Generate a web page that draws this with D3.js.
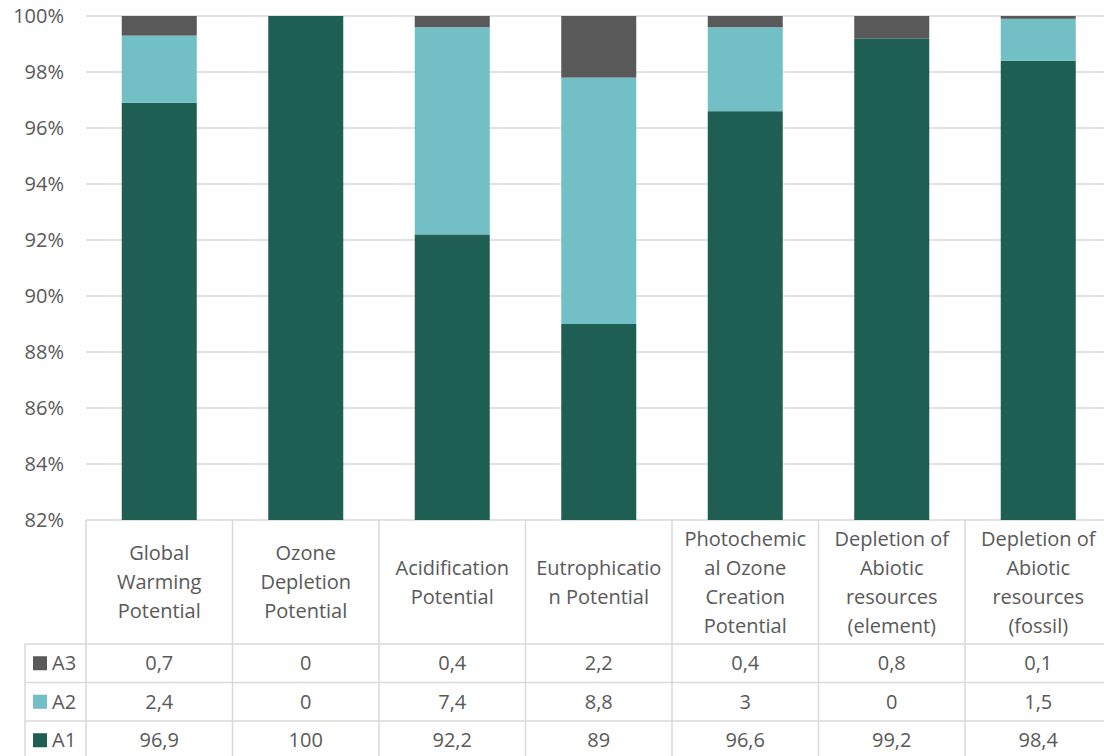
<!DOCTYPE html>
<html>
<head>
<meta charset="utf-8">
<script src="https://cdn.jsdelivr.net/npm/d3@7"></script>
<style>
  body { margin: 0; background: #fff; }
  text { font-family: "Open Sans", sans-serif; fill: #595959; }
</style>
</head>
<body>
<script>
// categories as they wrap in the table header
var categories = [
  ["Global", "Warming", "Potential"],
  ["Ozone", "Depletion", "Potential"],
  ["Acidification", "Potential"],
  ["Eutrophicatio", "n Potential"],
  ["Photochemic", "al Ozone", "Creation", "Potential"],
  ["Depletion of", "Abiotic", "resources", "(element)"],
  ["Depletion of", "Abiotic", "resources", "(fossil)"]
];
var a1 = [96.9, 100, 92.2, 89, 96.6, 99.2, 98.4];
var a2 = [2.4, 0, 7.4, 8.8, 3, 0, 1.5];
var a3 = [0.7, 0, 0.4, 2.2, 0.4, 0.8, 0.1];
var yTicks = [82, 84, 86, 88, 90, 92, 94, 96, 98, 100];

var seriesNames = ["A1", "A2", "A3"];
var colors = {A1: "#1f5f53", A2: "#72bfc5", A3: "#595959"};
var seriesVals = {A1: a1, A2: a2, A3: a3};

var W = 1104, H = 756;
var mLeft = 86, colW = 146.5, mTop = 16, mBottom = 520;
var headH = 124, rowH = 38.5, legL = 25;
var fs = "20px";

var svg = d3.select("body").append("svg").attr("width", W).attr("height", H);

var keys = categories.map(function(d, i) { return "c" + i; });
var x = d3.scaleBand().domain(keys).range([mLeft, mLeft + colW * keys.length]).padding(0);
var y = d3.scaleLinear().domain([82, 100]).range([mBottom, mTop]).clamp(true);

// gridlines
svg.append("g").selectAll("line").data(yTicks).join("line")
  .attr("x1", mLeft).attr("x2", W)
  .attr("y1", function(d) { return y(d); }).attr("y2", function(d) { return y(d); })
  .attr("stroke", "#d9d9d9").attr("stroke-width", 1.5);

svg.append("g").selectAll("text").data(yTicks).join("text")
  .attr("x", 64).attr("y", function(d) { return y(d); })
  .attr("dy", "0.35em").attr("text-anchor", "end")
  .style("font-size", fs)
  .text(function(d) { return d + "%"; });

// stacked bars
var rows = categories.map(function(c, i) { return {key: keys[i], A1: a1[i], A2: a2[i], A3: a3[i]}; });
var stack = d3.stack().keys(seriesNames)(rows);
var barW = x.bandwidth() * 0.512;

svg.append("g").selectAll("g").data(stack).join("g")
  .attr("fill", function(s) { return colors[s.key]; })
  .selectAll("rect").data(function(s) { return s; }).join("rect")
  .attr("x", function(d) { return x(d.data.key) + (x.bandwidth() - barW) / 2; })
  .attr("width", barW)
  .attr("y", function(d) { return y(d[1]); })
  .attr("height", function(d) { return y(d[0]) - y(d[1]); });

// data table
var tbl = svg.append("g");
var line = function(x1, y1, x2, y2) {
  tbl.append("line").attr("x1", x1).attr("y1", y1).attr("x2", x2).attr("y2", y2)
    .attr("stroke", "#d9d9d9").attr("stroke-width", 1.5);
};
var tableRight = mLeft + colW * keys.length;
keys.forEach(function(k) { line(x(k), mBottom, x(k), H); });
line(tableRight, mBottom, tableRight, H);
line(legL, mBottom + headH, legL, H);
[0, 1, 2, 3].forEach(function(r) {
  line(legL, mBottom + headH + r * rowH, tableRight, mBottom + headH + r * rowH);
});

// header text
var lh = 29;
keys.forEach(function(k, i) {
  var lines = categories[i];
  var cy = mBottom + headH / 2 - (lines.length - 1) * lh / 2;
  var t = tbl.append("text").attr("text-anchor", "middle").style("font-size", fs);
  lines.forEach(function(l, j) {
    t.append("tspan").attr("x", x(k) + colW / 2).attr("y", cy + j * lh).attr("dy", "0.35em").text(l);
  });
});

// rows: A3, A2, A1
var order = ["A3", "A2", "A1"];
order.forEach(function(s, r) {
  var cy = mBottom + headH + r * rowH + rowH / 2;
  tbl.append("rect").attr("x", 33).attr("y", cy - 7).attr("width", 14).attr("height", 14).attr("fill", colors[s]);
  tbl.append("text").attr("x", 52).attr("y", cy).attr("dy", "0.35em").style("font-size", fs).text(s);
  keys.forEach(function(k, i) {
    tbl.append("text").attr("x", x(k) + colW / 2).attr("y", cy).attr("dy", "0.35em")
      .attr("text-anchor", "middle").style("font-size", fs)
      .text(String(seriesVals[s][i]).replace(".", ","));
  });
});
</script>
</body>
</html>
